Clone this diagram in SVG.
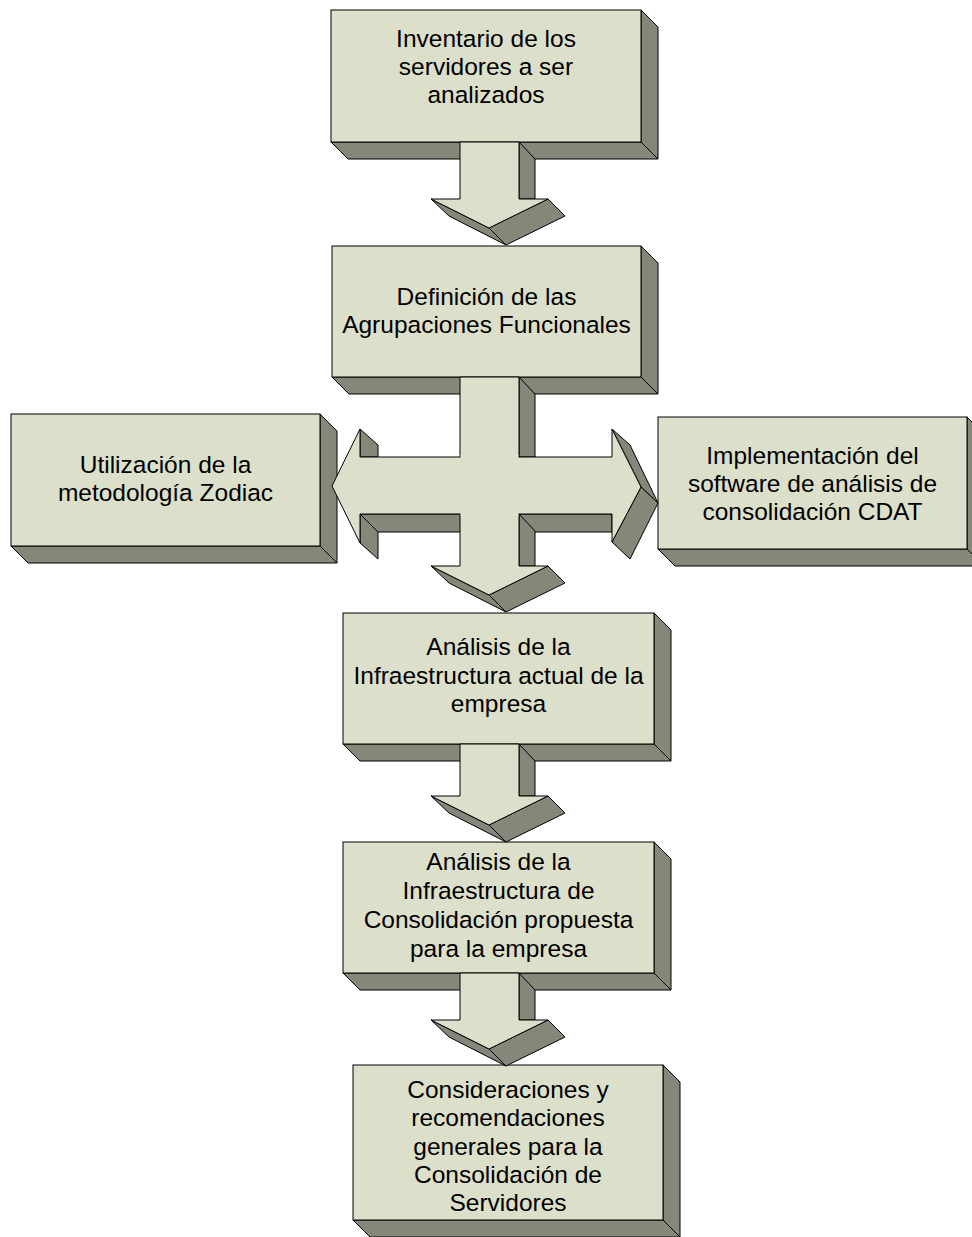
<svg xmlns="http://www.w3.org/2000/svg" width="972" height="1237" viewBox="0 0 972 1237">
  <style>
    .face { fill: #DCDFCA; stroke: #000; stroke-width: 1; stroke-linejoin: miter; }
    .side { fill: #858779; stroke: #000; stroke-width: 1; stroke-linejoin: miter; }
    .fill { fill: #DCDFCA; stroke: none; }
    .lbl { font-family: "Liberation Sans", Arial, sans-serif; font-size: 24.5px; fill: #000; text-anchor: middle; }
  </style>
  <rect width="972" height="1237" fill="#fff"/>

  <!-- process blocks: front face plus right and bottom extrusion -->
  <g id="inventario">
    <polygon class="side" points="641,10 658,27 658,159 641,142"/>
    <polygon class="side" points="331,142 641,142 658,159 348,159"/>
    <rect class="face" x="331" y="10" width="310" height="132"/>
    <text class="lbl" x="486" y="47">Inventario de los</text>
    <text class="lbl" x="486" y="75">servidores a ser</text>
    <text class="lbl" x="486" y="103">analizados</text>
  </g>

  <g id="definicion">
    <polygon class="side" points="641,246 658,263 658,394 641,377"/>
    <polygon class="side" points="332,377 641,377 658,394 349,394"/>
    <rect class="face" x="332" y="246" width="309" height="131"/>
    <text class="lbl" x="486.5" y="305">Definición de las</text>
    <text class="lbl" x="486.5" y="333">Agrupaciones Funcionales</text>
  </g>

  <g id="zodiac">
    <polygon class="side" points="320,414 337,431 337,563 320,546"/>
    <polygon class="side" points="11,546 320,546 337,563 28,563"/>
    <rect class="face" x="11" y="414" width="309" height="132"/>
    <text class="lbl" x="165.5" y="473">Utilización de la</text>
    <text class="lbl" x="165.5" y="501">metodología Zodiac</text>
  </g>

  <g id="cdat">
    <polygon class="side" points="967,417 984,434 984,566 967,549"/>
    <polygon class="side" points="658,549 967,549 984,566 675,566"/>
    <rect class="face" x="658" y="417" width="309" height="132"/>
    <text class="lbl" x="812.5" y="464">Implementación del</text>
    <text class="lbl" x="812.5" y="492">software de análisis de</text>
    <text class="lbl" x="812.5" y="520">consolidación CDAT</text>
  </g>

  <g id="analisis-actual">
    <polygon class="side" points="654,613 671,630 671,761 654,744"/>
    <polygon class="side" points="343,744 654,744 671,761 360,761"/>
    <rect class="face" x="343" y="613" width="311" height="131"/>
    <text class="lbl" x="498.5" y="655">Análisis de la</text>
    <text class="lbl" x="498.5" y="683.5">Infraestructura actual de la</text>
    <text class="lbl" x="498.5" y="712">empresa</text>
  </g>

  <g id="analisis-propuesta">
    <polygon class="side" points="654,842 671,859 671,990 654,973"/>
    <polygon class="side" points="343,973 654,973 671,990 360,990"/>
    <rect class="face" x="343" y="842" width="311" height="131"/>
    <text class="lbl" x="498.5" y="870">Análisis de la</text>
    <text class="lbl" x="498.5" y="899">Infraestructura de</text>
    <text class="lbl" x="498.5" y="928">Consolidación propuesta</text>
    <text class="lbl" x="498.5" y="957">para la empresa</text>
  </g>

  <g id="consideraciones">
    <polygon class="side" points="663,1065 680,1082 680,1237 663,1220"/>
    <polygon class="side" points="353,1220 663,1220 680,1237 370,1237"/>
    <rect class="face" x="353" y="1065" width="310" height="155"/>
    <text class="lbl" x="508" y="1098">Consideraciones y</text>
    <text class="lbl" x="508" y="1126">recomendaciones</text>
    <text class="lbl" x="508" y="1155">generales para la</text>
    <text class="lbl" x="508" y="1183">Consolidación de</text>
    <text class="lbl" x="508" y="1211">Servidores</text>
  </g>

  <!-- block arrows between the steps -->
  <g id="connectors">
    <!-- inventario -> definicion -->
    <g id="arrow-1">
      <polygon class="side" points="519,142 535,159 535,199 519,199"/>
      <polygon class="side" points="431,199 449,216 506,245 489,228"/>
      <polygon class="side" points="548,199 565,216 506,245 489,228"/>
      <polygon class="face" points="460,142 519,142 519,199 548,199 489,228 431,199 460,199"/>
    </g>

    <!-- definicion -> analisis actual, crossed by the double-headed arrow -->
    <g id="arrow-2">
      <polygon class="side" points="519,377 535,394 535,457 519,457"/>
      <!-- double arrow extrusion -->
      <polygon class="side" points="360,429 378,445 378,457 360,457"/>
      <polygon class="side" points="360,514 612,514 612,532 378,532"/>
      <polygon class="side" points="360,514 378,532 378,559 360,543"/>
      <polygon class="side" points="612,429 630,445 658,503 641,487"/>
      <polygon class="side" points="641,487 658,503 630,559 612,542"/>
      <polygon class="side" points="519,514 535,531 535,566 519,566"/>
      <!-- head of the vertical arrow -->
      <polygon class="side" points="431,566 449,583 506,612 489,595"/>
      <polygon class="side" points="548,566 565,583 506,612 489,595"/>
      <polygon class="face" points="460,377 519,377 519,566 548,566 489,595 431,566 460,566"/>
      <!-- double arrow front -->
      <polygon class="face" points="332,486 360,429 360,457 612,457 612,429 641,487 612,542 612,514 360,514 360,543"/>
      <rect class="fill" x="460.5" y="455" width="58" height="61"/>
    </g>

    <!-- analisis actual -> analisis propuesta -->
    <g id="arrow-3">
      <polygon class="side" points="519,744 535,761 535,796 519,796"/>
      <polygon class="side" points="431,796 449,813 506,842 489,825"/>
      <polygon class="side" points="548,796 565,813 506,842 489,825"/>
      <polygon class="face" points="460,744 519,744 519,796 548,796 489,825 431,796 460,796"/>
    </g>

    <!-- analisis propuesta -> consideraciones -->
    <g id="arrow-4">
      <polygon class="side" points="519,973 535,990 535,1020 519,1020"/>
      <polygon class="side" points="431,1020 449,1037 506,1066 489,1049"/>
      <polygon class="side" points="548,1020 565,1037 506,1066 489,1049"/>
      <polygon class="face" points="460,973 519,973 519,1020 548,1020 489,1049 431,1020 460,1020"/>
    </g>
  </g>
</svg>
